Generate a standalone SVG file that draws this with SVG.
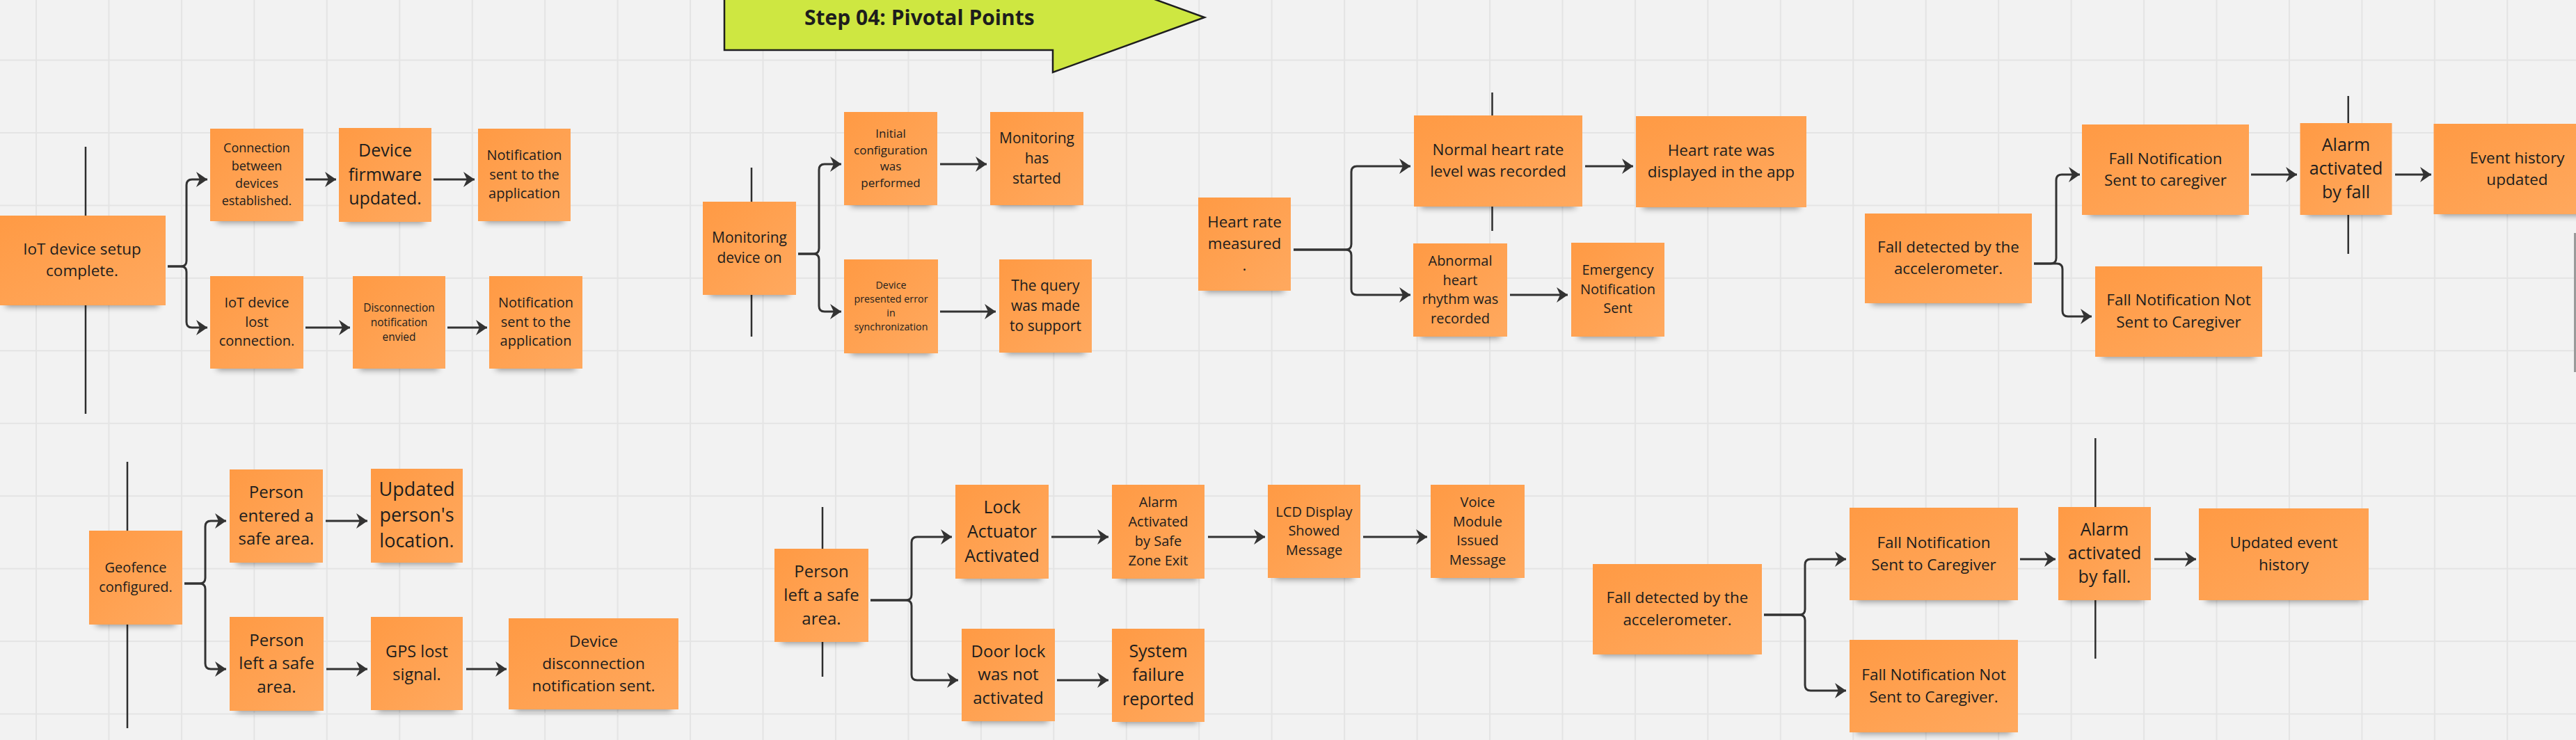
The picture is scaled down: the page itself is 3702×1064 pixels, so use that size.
<svg xmlns="http://www.w3.org/2000/svg" width="3702" height="1064" viewBox="0 0 3702 1064">
<defs>
<pattern id="grid" patternUnits="userSpaceOnUse" x="51" y="85.5" width="104.45" height="104.45">
<rect width="104.45" height="104.45" fill="#F2F2F2"/>
<path d="M1,0 V104.45 M0,1 H104.45" stroke="#E4E4E4" stroke-width="2" fill="none"/>
</pattern>
<linearGradient id="ng" x1="0" y1="0" x2="1" y2="1">
<stop offset="0" stop-color="#FF9A44"/>
<stop offset="1" stop-color="#FFA95F"/>
</linearGradient>
<filter id="blur" x="-20%" y="-100%" width="140%" height="300%">
<feGaussianBlur stdDeviation="5"/>
</filter>
<marker id="ah" markerUnits="userSpaceOnUse" viewBox="0 0 16 22" markerWidth="16" markerHeight="22" refX="16" refY="11" orient="auto">
<path d="M0,0 L16,11 L0,22 L5,11 Z" fill="#333333"/>
</marker>
<style>
.note{fill:url(#ng);}
.sh{fill:#000;opacity:.4;filter:url(#blur);}
.t{font-family:"Open Sans","Liberation Sans",sans-serif;fill:#1d1d1d;text-anchor:middle;}
.c{fill:none;stroke:#333333;stroke-width:3;marker-end:url(#ah);}
.pv{stroke:#2e2e2e;stroke-width:2.5;fill:none;}
</style>
</defs>
<rect x="0" y="0" width="3702" height="1064" fill="url(#grid)"/>

<g id="title">
<polygon points="1041,-60 1513,-60 1513,-54 1731,25 1513,104 1513,72 1041,72" fill="#CEE741" stroke="#1e1e1e" stroke-width="2.5"/>
<text x="1156" y="36" font-family="'Open Sans','Liberation Sans',sans-serif" font-weight="bold" font-size="30" fill="#1d1d1d">Step 04: Pivotal Points</text>
</g>

<g id="connectors">
<line class="pv" x1="123" y1="211" x2="123" y2="595"/>
<line class="pv" x1="1080" y1="241" x2="1080" y2="484"/>
<line class="pv" x1="2144.5" y1="133" x2="2144.5" y2="332"/>
<line class="pv" x1="3374.7" y1="138" x2="3374.7" y2="365"/>
<line class="pv" x1="183" y1="664" x2="183" y2="1047"/>
<line class="pv" x1="1182" y1="729" x2="1182" y2="973"/>
<line class="pv" x1="3011.3" y1="630" x2="3011.3" y2="947"/>
<rect x="3699" y="335" width="3" height="200" fill="#9a9a9a"/>

<path class="c" d="M241,383 H260 Q268,383 268,375 V266 Q268,258 276,258 H298"/>
<path class="c" d="M241,383 H260 Q268,383 268,391 V463 Q268,471 276,471 H298"/>
<path class="c" d="M439,258 H483"/>
<path class="c" d="M623,258 H682"/>
<path class="c" d="M439,471 H503"/>
<path class="c" d="M643,471 H700"/>

<path class="c" d="M1147,365 H1169 Q1177,365 1177,357 V244 Q1177,236 1185,236 H1209"/>
<path class="c" d="M1147,365 H1169 Q1177,365 1177,373 V440 Q1177,448 1185,448 H1209"/>
<path class="c" d="M1351,236 H1418"/>
<path class="c" d="M1351,448 H1431"/>

<path class="c" d="M1859,359 H1934 Q1942,359 1942,351 V247 Q1942,239 1950,239 H2027"/>
<path class="c" d="M1859,359 H1934 Q1942,359 1942,367 V416 Q1942,424 1950,424 H2027"/>
<path class="c" d="M2278,239 H2347"/>
<path class="c" d="M2170,424 H2253"/>

<path class="c" d="M2923,379 H2947 Q2955,379 2955,371 V259 Q2955,251 2963,251 H2989"/>
<path class="c" d="M2923,379 H2956 Q2964,379 2964,387 V447 Q2964,455 2972,455 H3006"/>
<path class="c" d="M3235,251 H3301"/>
<path class="c" d="M3442,251 H3494"/>

<path class="c" d="M265,839 H287 Q295,839 295,831 V757 Q295,749 303,749 H325"/>
<path class="c" d="M265,839 H287 Q295,839 295,847 V954 Q295,962 303,962 H325"/>
<path class="c" d="M468,749 H528"/>
<path class="c" d="M469,962 H528"/>
<path class="c" d="M670,962 H728"/>

<path class="c" d="M1251,863 H1302 Q1310,863 1310,855 V780 Q1310,772 1318,772 H1368"/>
<path class="c" d="M1251,863 H1302 Q1310,863 1310,871 V970 Q1310,978 1318,978 H1377"/>
<path class="c" d="M1511,772 H1593"/>
<path class="c" d="M1736,772 H1818"/>
<path class="c" d="M1959,772 H2051"/>
<path class="c" d="M1519,978 H1593"/>

<path class="c" d="M2535,884 H2586 Q2594,884 2594,876 V812 Q2594,804 2602,804 H2653"/>
<path class="c" d="M2535,884 H2586 Q2594,884 2594,892 V985 Q2594,993 2602,993 H2653"/>
<path class="c" d="M2903,804 H2954"/>
<path class="c" d="M3096,804 H3156"/>
</g>

<g id="n1"><rect class="sh" x="8" y="425" width="220" height="16"/><rect class="note" x="-2" y="310" width="240" height="129"/><text class="t" font-size="22.5"><tspan x="118" y="366.2">IoT device setup</tspan><tspan x="118" y="397.2">complete.</tspan></text></g>
<g id="n2"><rect class="sh" x="312" y="304" width="114" height="16"/><rect class="note" x="302" y="185" width="134" height="133"/><text class="t" font-size="18"><tspan x="369" y="219.3">Connection</tspan><tspan x="369" y="244.6">between</tspan><tspan x="369" y="269.9">devices</tspan><tspan x="369" y="295.2">established.</tspan></text></g>
<g id="n3"><rect class="sh" x="497" y="305" width="113" height="16"/><rect class="note" x="487" y="184" width="133" height="135"/><text class="t" font-size="25"><tspan x="553.5" y="224.8">Device</tspan><tspan x="553.5" y="259.5">firmware</tspan><tspan x="553.5" y="294.2">updated.</tspan></text></g>
<g id="n4"><rect class="sh" x="697" y="304" width="113" height="16"/><rect class="note" x="687" y="185" width="133" height="133"/><text class="t" font-size="20"><tspan x="753.5" y="230.4">Notification</tspan><tspan x="753.5" y="257.9">sent to the</tspan><tspan x="753.5" y="285.4">application</tspan></text></g>
<g id="n5"><rect class="sh" x="312" y="516" width="114" height="16"/><rect class="note" x="302" y="397" width="134" height="133"/><text class="t" font-size="20"><tspan x="369" y="442.4">IoT device</tspan><tspan x="369" y="469.9">lost</tspan><tspan x="369" y="497.4">connection.</tspan></text></g>
<g id="n6"><rect class="sh" x="517" y="516" width="113" height="16"/><rect class="note" x="507" y="397" width="133" height="133"/><text class="t" font-size="15.5"><tspan x="573.5" y="447.5">Disconnection</tspan><tspan x="573.5" y="468.5">notification</tspan><tspan x="573.5" y="489.5">envied</tspan></text></g>
<g id="n7"><rect class="sh" x="713" y="516" width="114" height="16"/><rect class="note" x="703" y="397" width="134" height="133"/><text class="t" font-size="20"><tspan x="770" y="442.4">Notification</tspan><tspan x="770" y="469.9">sent to the</tspan><tspan x="770" y="497.4">application</tspan></text></g>

<g id="m1"><rect class="sh" x="1020" y="410" width="114" height="16"/><rect class="note" x="1010" y="290" width="134" height="134"/><text class="t" font-size="21"><tspan x="1077" y="349.2">Monitoring</tspan><tspan x="1077" y="378.2">device on</tspan></text></g>
<g id="m2"><rect class="sh" x="1223" y="281" width="114" height="16"/><rect class="note" x="1213" y="161" width="134" height="134"/><text class="t" font-size="17"><tspan x="1280" y="197.9">Initial</tspan><tspan x="1280" y="221.6">configuration</tspan><tspan x="1280" y="245.3">was</tspan><tspan x="1280" y="269">performed</tspan></text></g>
<g id="m3"><rect class="sh" x="1433" y="281" width="114" height="16"/><rect class="note" x="1423" y="161" width="134" height="134"/><text class="t" font-size="21"><tspan x="1490" y="205.5">Monitoring</tspan><tspan x="1490" y="234.7">has</tspan><tspan x="1490" y="263.9">started</tspan></text></g>
<g id="m4"><rect class="sh" x="1223" y="494" width="115" height="16"/><rect class="note" x="1213" y="373" width="135" height="135"/><text class="t" font-size="14.3"><tspan x="1280.5" y="415.1">Device</tspan><tspan x="1280.5" y="435.1">presented error</tspan><tspan x="1280.5" y="455.1">in</tspan><tspan x="1280.5" y="475.1">synchronization</tspan></text></g>
<g id="m5"><rect class="sh" x="1446" y="493" width="113" height="16"/><rect class="note" x="1436" y="373" width="133" height="134"/><text class="t" font-size="21"><tspan x="1502.5" y="417.7">The query</tspan><tspan x="1502.5" y="446.7">was made</tspan><tspan x="1502.5" y="475.7">to support</tspan></text></g>

<g id="h1"><rect class="sh" x="1732" y="404" width="113" height="16"/><rect class="note" x="1722" y="284" width="133" height="134"/><text class="t" font-size="22.4"><tspan x="1788.5" y="327.2">Heart rate</tspan><tspan x="1788.5" y="358.2">measured</tspan><tspan x="1788.5" y="389.2">.</tspan></text></g>
<g id="h2"><rect class="sh" x="2042" y="283" width="222" height="16"/><rect class="note" x="2032" y="166" width="242" height="131"/><text class="t" font-size="22.5"><tspan x="2153" y="223.2">Normal heart rate</tspan><tspan x="2153" y="254.2">level was recorded</tspan></text></g>
<g id="h3"><rect class="sh" x="2361" y="284" width="225" height="16"/><rect class="note" x="2351" y="167" width="245" height="131"/><text class="t" font-size="22.5"><tspan x="2473.5" y="224.2">Heart rate was</tspan><tspan x="2473.5" y="255.2">displayed in the app</tspan></text></g>
<g id="h4"><rect class="sh" x="2041" y="470" width="115" height="16"/><rect class="note" x="2031" y="350" width="135" height="134"/><text class="t" font-size="20"><tspan x="2098.5" y="382.2">Abnormal</tspan><tspan x="2098.5" y="409.7">heart</tspan><tspan x="2098.5" y="437.2">rhythm was</tspan><tspan x="2098.5" y="464.7">recorded</tspan></text></g>
<g id="h5"><rect class="sh" x="2268" y="470" width="114" height="16"/><rect class="note" x="2258" y="349" width="134" height="135"/><text class="t" font-size="20"><tspan x="2325" y="395.4">Emergency</tspan><tspan x="2325" y="422.9">Notification</tspan><tspan x="2325" y="450.4">Sent</tspan></text></g>

<g id="f1"><rect class="sh" x="2690" y="422" width="220" height="16"/><rect class="note" x="2680" y="307" width="240" height="129"/><text class="t" font-size="22.4"><tspan x="2800" y="363.2">Fall detected by the</tspan><tspan x="2800" y="394.2">accelerometer.</tspan></text></g>
<g id="f2"><rect class="sh" x="3002" y="295" width="220" height="16"/><rect class="note" x="2992" y="179" width="240" height="130"/><text class="t" font-size="22.5"><tspan x="3112" y="235.7">Fall Notification</tspan><tspan x="3112" y="266.7">Sent to caregiver</tspan></text></g>
<g id="f3"><rect class="sh" x="3315" y="295" width="112" height="16"/><rect class="note" x="3305.5" y="177" width="132" height="132"/><text class="t" font-size="25"><tspan x="3371.5" y="216.8">Alarm</tspan><tspan x="3371.5" y="251">activated</tspan><tspan x="3371.5" y="285.2">by fall</tspan></text></g>
<g id="f4"><rect class="sh" x="3507" y="294" width="220" height="16"/><rect class="note" x="3497.5" y="178" width="240" height="130"/><text class="t" font-size="22.5"><tspan x="3617.5" y="234.7">Event history</tspan><tspan x="3617.5" y="265.7">updated</tspan></text></g>
<g id="f5"><rect class="sh" x="3021" y="499" width="220" height="16"/><rect class="note" x="3011" y="383" width="240" height="130"/><text class="t" font-size="22.5"><tspan x="3131" y="439.3">Fall Notification Not</tspan><tspan x="3131" y="471">Sent to Caregiver</tspan></text></g>

<g id="g1"><rect class="sh" x="138" y="884" width="114" height="16"/><rect class="note" x="128" y="763" width="134" height="135"/><text class="t" font-size="20"><tspan x="195" y="823.2">Geofence</tspan><tspan x="195" y="850.5">configured.</tspan></text></g>
<g id="g2"><rect class="sh" x="340" y="795" width="114" height="16"/><rect class="note" x="330" y="675" width="134" height="134"/><text class="t" font-size="24"><tspan x="397" y="716.4">Person</tspan><tspan x="397" y="749.7">entered a</tspan><tspan x="397" y="783">safe area.</tspan></text></g>
<g id="g3"><rect class="sh" x="543" y="795" width="112" height="16"/><rect class="note" x="533" y="674" width="132" height="135"/><text class="t" font-size="27"><tspan x="599" y="713.4">Updated</tspan><tspan x="599" y="750.1">person's</tspan><tspan x="599" y="786.8">location.</tspan></text></g>
<g id="g4"><rect class="sh" x="340" y="1008" width="115" height="16"/><rect class="note" x="330" y="887" width="135" height="135"/><text class="t" font-size="24"><tspan x="397.5" y="928.9">Person</tspan><tspan x="397.5" y="962.2">left a safe</tspan><tspan x="397.5" y="995.5">area.</tspan></text></g>
<g id="g5"><rect class="sh" x="543" y="1007" width="112" height="16"/><rect class="note" x="533" y="887" width="132" height="134"/><text class="t" font-size="23.5"><tspan x="599" y="945.2">GPS lost</tspan><tspan x="599" y="977.9">signal.</tspan></text></g>
<g id="g6"><rect class="sh" x="741" y="1006" width="224" height="16"/><rect class="note" x="731" y="889" width="244" height="131"/><text class="t" font-size="22.7"><tspan x="853" y="930.1">Device</tspan><tspan x="853" y="961.8">disconnection</tspan><tspan x="853" y="993.5">notification sent.</tspan></text></g>

<g id="p1"><rect class="sh" x="1123" y="909" width="115" height="16"/><rect class="note" x="1113" y="789" width="135" height="134"/><text class="t" font-size="24"><tspan x="1180.5" y="829.7">Person</tspan><tspan x="1180.5" y="863.7">left a safe</tspan><tspan x="1180.5" y="897.7">area.</tspan></text></g>
<g id="p2"><rect class="sh" x="1383" y="818" width="114" height="16"/><rect class="note" x="1373" y="697" width="134" height="135"/><text class="t" font-size="25"><tspan x="1440" y="737.5">Lock</tspan><tspan x="1440" y="772.5">Actuator</tspan><tspan x="1440" y="807.5">Activated</tspan></text></g>
<g id="p3"><rect class="sh" x="1608" y="818" width="113" height="16"/><rect class="note" x="1598" y="697" width="133" height="135"/><text class="t" font-size="20"><tspan x="1664.5" y="729.4">Alarm</tspan><tspan x="1664.5" y="757.1">Activated</tspan><tspan x="1664.5" y="784.8">by Safe</tspan><tspan x="1664.5" y="812.5">Zone Exit</tspan></text></g>
<g id="p4"><rect class="sh" x="1832" y="817" width="113" height="16"/><rect class="note" x="1822" y="697" width="133" height="134"/><text class="t" font-size="20"><tspan x="1888.5" y="743.1">LCD Display</tspan><tspan x="1888.5" y="770.4">Showed</tspan><tspan x="1888.5" y="797.7">Message</tspan></text></g>
<g id="p5"><rect class="sh" x="2066" y="817" width="115" height="16"/><rect class="note" x="2056" y="697" width="135" height="134"/><text class="t" font-size="20"><tspan x="2123.5" y="728.9">Voice</tspan><tspan x="2123.5" y="756.6">Module</tspan><tspan x="2123.5" y="784.3">Issued</tspan><tspan x="2123.5" y="812">Message</tspan></text></g>
<g id="p6"><rect class="sh" x="1392" y="1023" width="114" height="16"/><rect class="note" x="1382" y="904" width="134" height="133"/><text class="t" font-size="24"><tspan x="1449" y="944.9">Door lock</tspan><tspan x="1449" y="978.2">was not</tspan><tspan x="1449" y="1011.5">activated</tspan></text></g>
<g id="p7"><rect class="sh" x="1608" y="1024" width="113" height="16"/><rect class="note" x="1598" y="904" width="133" height="134"/><text class="t" font-size="25"><tspan x="1664.5" y="944.5">System</tspan><tspan x="1664.5" y="979">failure</tspan><tspan x="1664.5" y="1013.5">reported</tspan></text></g>

<g id="b1"><rect class="sh" x="2299" y="927" width="223" height="16"/><rect class="note" x="2289" y="811" width="243" height="130"/><text class="t" font-size="22.4"><tspan x="2410.5" y="867.3">Fall detected by the</tspan><tspan x="2410.5" y="899">accelerometer.</tspan></text></g>
<g id="b2"><rect class="sh" x="2668" y="849" width="222" height="16"/><rect class="note" x="2658" y="730" width="242" height="133"/><text class="t" font-size="22.5"><tspan x="2779" y="787.8">Fall Notification</tspan><tspan x="2779" y="819.5">Sent to Caregiver</tspan></text></g>
<g id="b3"><rect class="sh" x="2968" y="849" width="113" height="16"/><rect class="note" x="2958" y="729" width="133" height="134"/><text class="t" font-size="25"><tspan x="3024.5" y="769.8">Alarm</tspan><tspan x="3024.5" y="804">activated</tspan><tspan x="3024.5" y="838.2">by fall.</tspan></text></g>
<g id="b4"><rect class="sh" x="3170" y="849" width="224" height="16"/><rect class="note" x="3160" y="731" width="244" height="132"/><text class="t" font-size="22.5"><tspan x="3282" y="788.3">Updated event</tspan><tspan x="3282" y="820">history</tspan></text></g>
<g id="b5"><rect class="sh" x="2668" y="1039" width="222" height="16"/><rect class="note" x="2658" y="920" width="242" height="133"/><text class="t" font-size="22.5"><tspan x="2779" y="977.8">Fall Notification Not</tspan><tspan x="2779" y="1009.5">Sent to Caregiver.</tspan></text></g>
</svg>
